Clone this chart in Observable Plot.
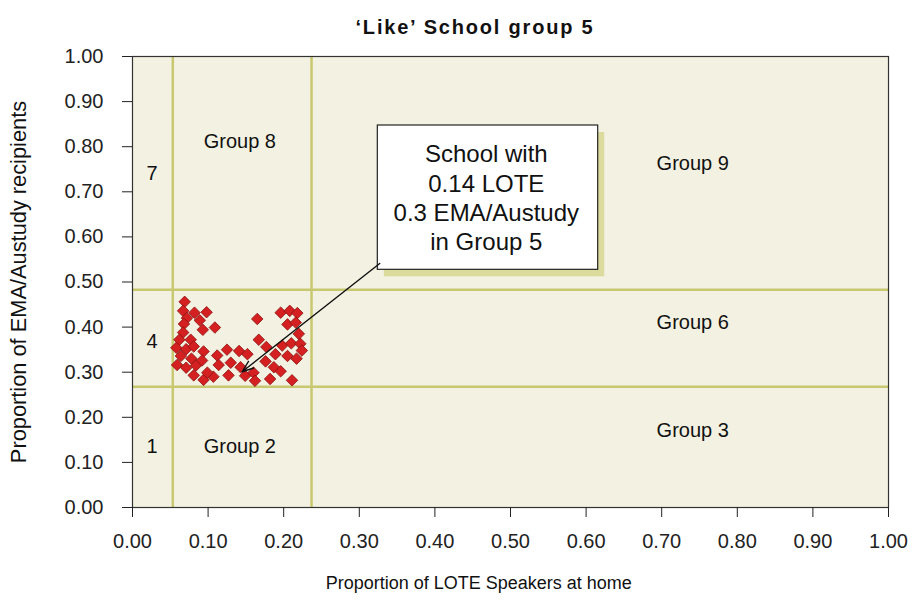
<!DOCTYPE html>
<html>
<head>
<meta charset="utf-8">
<script src="https://cdn.jsdelivr.net/npm/d3@7"></script>
<script src="https://cdn.jsdelivr.net/npm/@observablehq/plot@0.6"></script>
<style>
  body { margin: 0; background: #ffffff; }
  #wrap { width: 912px; }
  #title { height: 23px; padding-top: 17px; padding-left: 38px; text-align: center;
           font-family: "Liberation Sans", Arial, sans-serif; font-size: 20px; font-weight: bold;
           letter-spacing: 1.8px; line-height: 1; color: #111; }
</style>
</head>
<body>
<div id="wrap">
  <div id="title">‘Like’ School group 5</div>
  <div id="chart"></div>
</div>
<script>
// Schools in 'like' group 5: proportion of LOTE speakers (x) and EMA/Austudy recipients (y)
const lote = [0.069,0.067,0.082,0.098,0.072,0.089,0.068,0.093,0.109,0.067,0.062,0.077,0.058,0.071,0.081,0.094,0.064,0.078,0.059,0.071,0.084,0.092,0.081,0.094,0.107,0.099,0.112,0.125,0.114,0.130,0.127,0.141,0.152,0.143,0.149,0.160,0.162,0.165,0.167,0.177,0.176,0.189,0.187,0.196,0.182,0.198,0.210,0.222,0.205,0.217,0.224,0.220,0.196,0.208,0.218,0.205,0.216,0.211];
const ema  = [0.456,0.436,0.432,0.433,0.420,0.415,0.407,0.394,0.399,0.388,0.372,0.372,0.354,0.351,0.357,0.346,0.336,0.330,0.316,0.310,0.315,0.326,0.293,0.283,0.290,0.299,0.337,0.350,0.316,0.321,0.293,0.347,0.340,0.311,0.292,0.299,0.281,0.418,0.372,0.356,0.324,0.340,0.311,0.302,0.285,0.359,0.364,0.363,0.336,0.330,0.348,0.385,0.432,0.436,0.431,0.406,0.410,0.282];

// Group boundary thresholds
const loteCuts = [0.0533, 0.2368];
const emaCuts  = [0.268, 0.483];

// Axis ticks
const ticks = [0,0.1,0.2,0.3,0.4,0.5,0.6,0.7,0.8,0.9,1.0];

// Group labels
const groupNames = ["Group 8","7","Group 9","Group 6","4","Group 3","Group 2","1"];
const groupX     = [0.142,0.026,0.741,0.741,0.026,0.741,0.142,0.026];
const groupY     = [0.811,0.740,0.763,0.410,0.368,0.171,0.135,0.135];

// Callout
const calloutText = "School with\n0.14 LOTE\n0.3 EMA/Austudy\nin Group 5";
const calloutBox = [{x1: 0.3245, x2: 0.616, y1: 0.527, y2: 0.847}];
const calloutArrow = [{x1: 0.327, y1: 0.541, x2: 0.145, y2: 0.301}];
const calloutAnchor = [{x: 0.468, y: 0.689}];

const points = lote.map((v, i) => ({lote: v, ema: ema[i]}));
const groups = groupNames.map((n, i) => ({name: n, x: groupX[i], y: groupY[i]}));

const chart = Plot.plot({
  width: 912,
  height: 563,
  marginLeft: 132,
  marginRight: 24,
  marginTop: 16,
  marginBottom: 96,
  style: {fontFamily: "Liberation Sans, Arial, sans-serif", fontSize: "20px", color: "#222", background: "white"},
  x: {domain: [0, 1]},
  y: {domain: [0, 1]},
  marks: [
    Plot.frame({fill: "#f3f2e2"}),
    Plot.ruleX(loteCuts, {stroke: "#c8c870", strokeWidth: 2.5}),
    Plot.ruleY(emaCuts, {stroke: "#c8c870", strokeWidth: 2.5}),
    Plot.text(groups, {x: "x", y: "y", text: "name", fontSize: 20, fill: "#111"}),
    Plot.dot(points, {x: "lote", y: "ema", symbol: "diamond2", r: 5.2, fill: "#d42020", stroke: "#8a1212", strokeWidth: 0.8}),
    Plot.rect(calloutBox, {x1: "x1", x2: "x2", y1: "y1", y2: "y2", fill: "#dcdb9e", dx: 6.5, dy: 7}),
    Plot.rect(calloutBox, {x1: "x1", x2: "x2", y1: "y1", y2: "y2", fill: "white", stroke: "#222", strokeWidth: 1.2}),
    Plot.text(calloutAnchor, {x: "x", y: "y", text: () => calloutText, fontSize: 24, lineHeight: 1.21, fill: "#111"}),
    Plot.arrow(calloutArrow, {x1: "x1", y1: "y1", x2: "x2", y2: "y2", stroke: "#111", strokeWidth: 1.4, headLength: 13, headAngle: 40}),
    Plot.frame({stroke: "#333", strokeWidth: 1.2}),
    Plot.axisX({ticks: ticks, tickFormat: d3.format(".2f"), tickSize: 10, tickPadding: 16, label: null, fontSize: 20}),
    Plot.axisY({ticks: ticks, tickFormat: d3.format(".2f"), tickSize: 10, tickPadding: 19, label: null, fontSize: 20}),
    Plot.text(["Proportion of LOTE Speakers at home"], {x: 0.458, frameAnchor: "bottom", dy: 81, text: d => d, fontSize: 18, fill: "#111", textAnchor: "middle"}),
    Plot.text(["Proportion of EMA/Austudy recipients"], {y: 0.50, frameAnchor: "left", dx: -113, rotate: -90, text: d => d, fontSize: 21.8, fill: "#111", textAnchor: "middle"})
  ]
});
document.getElementById("chart").appendChild(chart);
</script>
</body>
</html>
